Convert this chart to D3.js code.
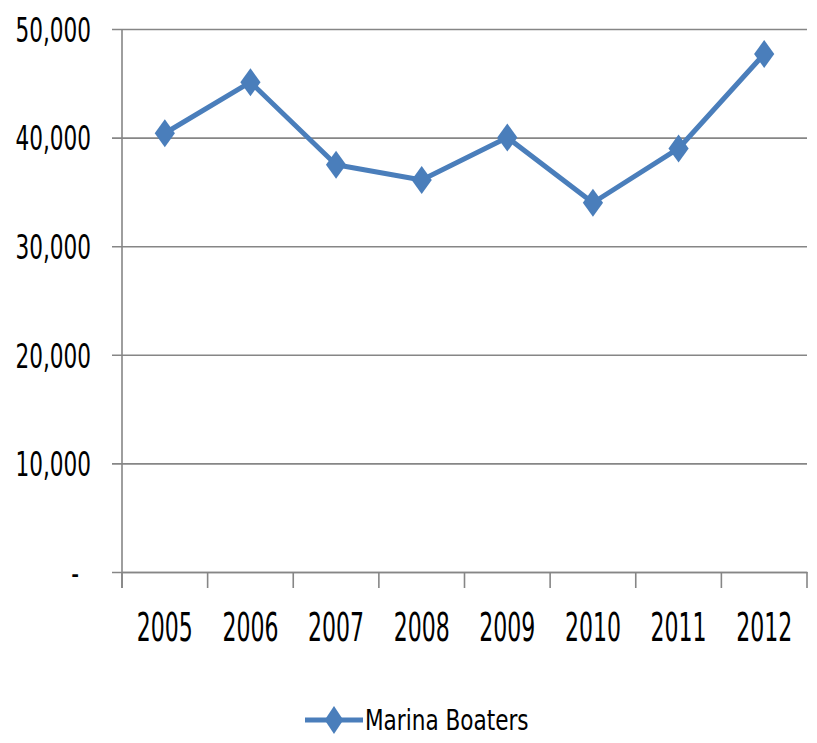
<!DOCTYPE html>
<html>
<head>
<meta charset="utf-8">
<script src="https://cdn.jsdelivr.net/npm/d3@7"></script>
<style>
  body { margin: 0; background: #fff; }
  svg { display: block; }
  text { font-family: "DejaVu Sans Condensed", "Liberation Sans", sans-serif; fill: #000; }
</style>
</head>
<body>
<svg width="817" height="743"></svg>
<script>
// chart data
var years = ["2005", "2006", "2007", "2008", "2009", "2010", "2011", "2012"];
var boaters = [40400, 45100, 37500, 36100, 40000, 34000, 39000, 47700];
var yTicks = [0, 10000, 20000, 30000, 40000, 50000];
var yTickLabels = ["-", "10,000", "20,000", "30,000", "40,000", "50,000"];
var seriesName = "Marina Boaters";

var drawChart = function() {
  let svg = d3.select("svg");

  let margin = { top: 29, right: 10, bottom: 171, left: 122 };
  let plotWidth = 817 - margin.left - margin.right;   // 685
  let plotHeight = 743 - margin.top - margin.bottom;  // 543

  let gridColor = "#868686";
  let lineColor = "#4A7EBB";

  let x = d3.scaleBand().domain(years).range([0, plotWidth]);
  let y = d3.scaleLinear().domain([0, 50000]).range([plotHeight, 0]);

  let plot = svg.append("g")
    .attr("transform", "translate(" + margin.left + "," + margin.top + ")");

  // y axis with gridlines
  let yAxis = d3.axisLeft(y)
    .tickValues(yTicks)
    .tickFormat(function(d, i) { return yTickLabels[i]; })
    .tickSizeInner(-plotWidth)
    .tickSizeOuter(0)
    .tickPadding(31);

  let yGroup = plot.append("g").call(yAxis);
  yGroup.select(".domain").remove();
  yGroup.selectAll(".tick line")
    .attr("x1", -10)
    .attr("stroke", gridColor)
    .attr("stroke-width", 1.6);
  yGroup.selectAll(".tick text")
    .style("font-size", "24px")
    .attr("dy", "0.36em")
    .attr("dx", function(d) { return d === 0 ? -12 : 0; })
    .attr("transform", "scale(1,1.42)");

  // vertical axis line
  plot.append("line")
    .attr("x1", 0).attr("x2", 0)
    .attr("y1", 0).attr("y2", plotHeight + 16)
    .attr("stroke", gridColor)
    .attr("stroke-width", 1.6);

  // x axis: labels at band centers, ticks at band edges
  let xAxis = d3.axisBottom(x).tickSize(0).tickPadding(0);
  let xGroup = plot.append("g")
    .attr("transform", "translate(0," + plotHeight + ")")
    .call(xAxis);
  xGroup.select(".domain")
    .attr("stroke", gridColor)
    .attr("stroke-width", 1.6);
  xGroup.selectAll(".tick text")
    .style("font-size", "24.5px")
    .attr("y", null)
    .attr("dy", 0)
    .attr("transform", "translate(0,69) scale(1,1.58)");

  let edges = years.map(function(d) { return x(d); }).concat([plotWidth]);
  xGroup.selectAll("line.edge")
    .data(edges)
    .enter()
    .append("line")
    .attr("class", "edge")
    .attr("x1", function(d) { return d; })
    .attr("x2", function(d) { return d; })
    .attr("y1", 0)
    .attr("y2", 16)
    .attr("stroke", gridColor)
    .attr("stroke-width", 1.6);

  // series line
  let line = d3.line()
    .x(function(d, i) { return x(years[i]) + x.bandwidth() / 2; })
    .y(function(d) { return y(d); });

  plot.append("path")
    .datum(boaters)
    .attr("d", line)
    .attr("fill", "none")
    .attr("stroke", lineColor)
    .attr("stroke-width", 5)
    .attr("stroke-linejoin", "round");

  let diamond = d3.symbol().type(d3.symbolDiamond).size(226);

  plot.selectAll("path.marker")
    .data(boaters)
    .enter()
    .append("path")
    .attr("class", "marker")
    .attr("d", diamond)
    .attr("fill", lineColor)
    .attr("transform", function(d, i) {
      return "translate(" + (x(years[i]) + x.bandwidth() / 2) + "," + y(d) + ") scale(1.25,1)";
    });

  // legend
  let legend = svg.append("g").attr("transform", "translate(305,720)");
  legend.append("line")
    .attr("x1", 0).attr("x2", 58)
    .attr("y1", 0).attr("y2", 0)
    .attr("stroke", lineColor)
    .attr("stroke-width", 5);
  legend.append("path")
    .attr("d", diamond)
    .attr("fill", lineColor)
    .attr("transform", "translate(29,0) scale(1.15,1)");
  legend.append("text")
    .attr("x", 60)
    .attr("y", 0)
    .attr("dy", "0.36em")
    .style("font-size", "24px")
    .attr("transform", "scale(1,1.2)")
    .attr("transform-origin", "0 0")
    .text(seriesName);
};

drawChart();
</script>
</body>
</html>
